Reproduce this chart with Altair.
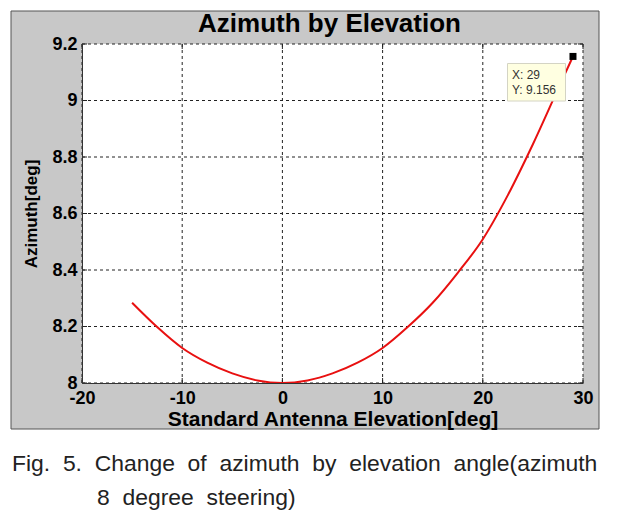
import altair as alt
import pandas as pd

# ---- data ----
elevation = [-15, -12.5, -10, -7.5, -5, -2.5, 0, 2.5, 5, 7.5, 10, 12.5, 15, 17.5, 20, 22.5, 25, 27.5, 29]
azimuth = [8.284, 8.198, 8.124, 8.072, 8.034, 8.009, 8.0, 8.009, 8.034, 8.072, 8.124, 8.198, 8.284,
           8.39, 8.509, 8.665, 8.845, 9.04, 9.156]
x_ticks = [-20, -10, 0, 10, 20, 30]
y_ticks = [8, 8.2, 8.4, 8.6, 8.8, 9, 9.2]
tip_x = [29]
tip_y = [9.156]

title_text = "Azimuth by Elevation"
x_title = "Standard Antenna Elevation[deg]"
y_title = "Azimuth[deg]"
caption_1 = "Fig.\u00a0 5.\u00a0 Change\u00a0 of\u00a0 azimuth\u00a0 by\u00a0 elevation\u00a0 angle(azimuth"
caption_2 = "8\u00a0 degree\u00a0 steering)"

W, H = 501, 339
BOLD = "Liberation Sans"

curve = pd.DataFrame({"el": elevation, "az": azimuth})
xt = pd.DataFrame({"el": x_ticks})
yt = pd.DataFrame({"az": y_ticks})
tip = pd.DataFrame({"el": tip_x, "az": tip_y})
one = pd.DataFrame({"a": [0]})

xs = alt.Scale(domain=[-20, 30], nice=False, zero=False)
ys = alt.Scale(domain=[8, 9.2], nice=False, zero=False)

x_axis = alt.Axis(values=x_ticks, labelExpr="'' + datum.value", grid=False, ticks=False,
                  domainColor="#333", domainWidth=1, labelFont=BOLD, labelFontWeight="bold",
                  labelFontSize=18, labelColor="black", labelPadding=6, labelFlush=False,
                  labelOverlap=False, zindex=1, title=x_title, titleFont=BOLD, titleFontWeight="bold",
                  titleFontSize=21, titleColor="black", titlePadding=1)
y_axis = alt.Axis(values=y_ticks, labelExpr="'' + datum.value", grid=False, ticks=False,
                  domainColor="#333", domainWidth=1, labelFont=BOLD, labelFontWeight="bold",
                  labelFontSize=18, labelColor="black", labelPadding=5, labelFlush=False,
                  labelOverlap=False, zindex=1, title=y_title, titleFont=BOLD, titleFontWeight="bold",
                  titleFontSize=17, titleColor="black", titlePadding=11)

X = alt.X("el:Q", scale=xs, axis=x_axis)
Y = alt.Y("az:Q", scale=ys, axis=y_axis)

bg = alt.Chart(one).mark_rect(fill="#c8c8c8", stroke="#555", strokeWidth=1).encode(
    x=alt.value(-71), x2=alt.value(517), y=alt.value(-33), y2=alt.value(385))
plot_bg = alt.Chart(one).mark_rect(fill="white").encode(
    x=alt.value(0), x2=alt.value(W), y=alt.value(0), y2=alt.value(H))

vgrid = alt.Chart(xt).mark_rule(strokeDash=[3, 3], color="#222", strokeWidth=1).encode(x=X)
hgrid = alt.Chart(yt).mark_rule(strokeDash=[3, 3], color="#222", strokeWidth=1).encode(y=Y)

tick_style = dict(color="#222", strokeWidth=1)
xtick_b = alt.Chart(xt).mark_rule(**tick_style).encode(x=X, y=alt.value(H - 5), y2=alt.value(H))
xtick_t = alt.Chart(xt).mark_rule(**tick_style).encode(x=X, y=alt.value(0), y2=alt.value(5))
ytick_l = alt.Chart(yt).mark_rule(**tick_style).encode(y=Y, x=alt.value(0), x2=alt.value(5))
ytick_r = alt.Chart(yt).mark_rule(**tick_style).encode(y=Y, x=alt.value(W - 5), x2=alt.value(W))

line = alt.Chart(curve).mark_line(color="#e81010", strokeWidth=2, interpolate="monotone").encode(x=X, y=Y)

tip_box = alt.Chart(one).mark_rect(fill="#ffffe1", stroke="#d4d4c4", strokeWidth=1).encode(
    x=alt.value(425.5), x2=alt.value(483.5), y=alt.value(19.5), y2=alt.value(57))
tip_style = dict(align="left", baseline="alphabetic", font="Liberation Sans", fontSize=12, color="#333")
tip_t1 = alt.Chart(tip).mark_text(**tip_style).transform_calculate(
    lbl="'X: ' + datum.el").encode(x=alt.value(430), y=alt.value(35), text="lbl:N")
tip_t2 = alt.Chart(tip).mark_text(**tip_style).transform_calculate(
    lbl="'Y: ' + datum.az").encode(x=alt.value(430), y=alt.value(50), text="lbl:N")
marker = alt.Chart(tip).mark_point(shape="square", filled=True, size=49, color="black", opacity=1).encode(x=X, y=Y)

title = alt.Chart(one).mark_text(font=BOLD, fontWeight="bold", fontSize=26, color="black",
                                 align="center", baseline="alphabetic").encode(
    x=alt.value(W / 2 - 3), y=alt.value(-12), text=alt.value(title_text))

cap_style = dict(font="Liberation Sans Narrow, Arial Narrow, Liberation Sans, sans-serif", fontSize=22.9,
                 color="#222", align="left", baseline="alphabetic")
cap1 = alt.Chart(one).mark_text(**cap_style).encode(
    x=alt.value(-70), y=alt.value(427), text=alt.value(caption_1))
cap2 = alt.Chart(one).mark_text(**cap_style).encode(
    x=alt.value(15), y=alt.value(461), text=alt.value(caption_2))

chart = alt.layer(
    bg, plot_bg, vgrid, hgrid, xtick_b, xtick_t, ytick_l, ytick_r, line,
    tip_box, tip_t1, tip_t2, marker, title, cap1, cap2
).properties(
    width=W, height=H,
    padding={"left": 74, "top": 36, "right": 28, "bottom": 128},
    autosize=alt.AutoSizeParams(type="none"),
    background="white",
).configure_view(stroke=None)

chart.save("out.html", embed_options={"renderer": "svg", "actions": False})
